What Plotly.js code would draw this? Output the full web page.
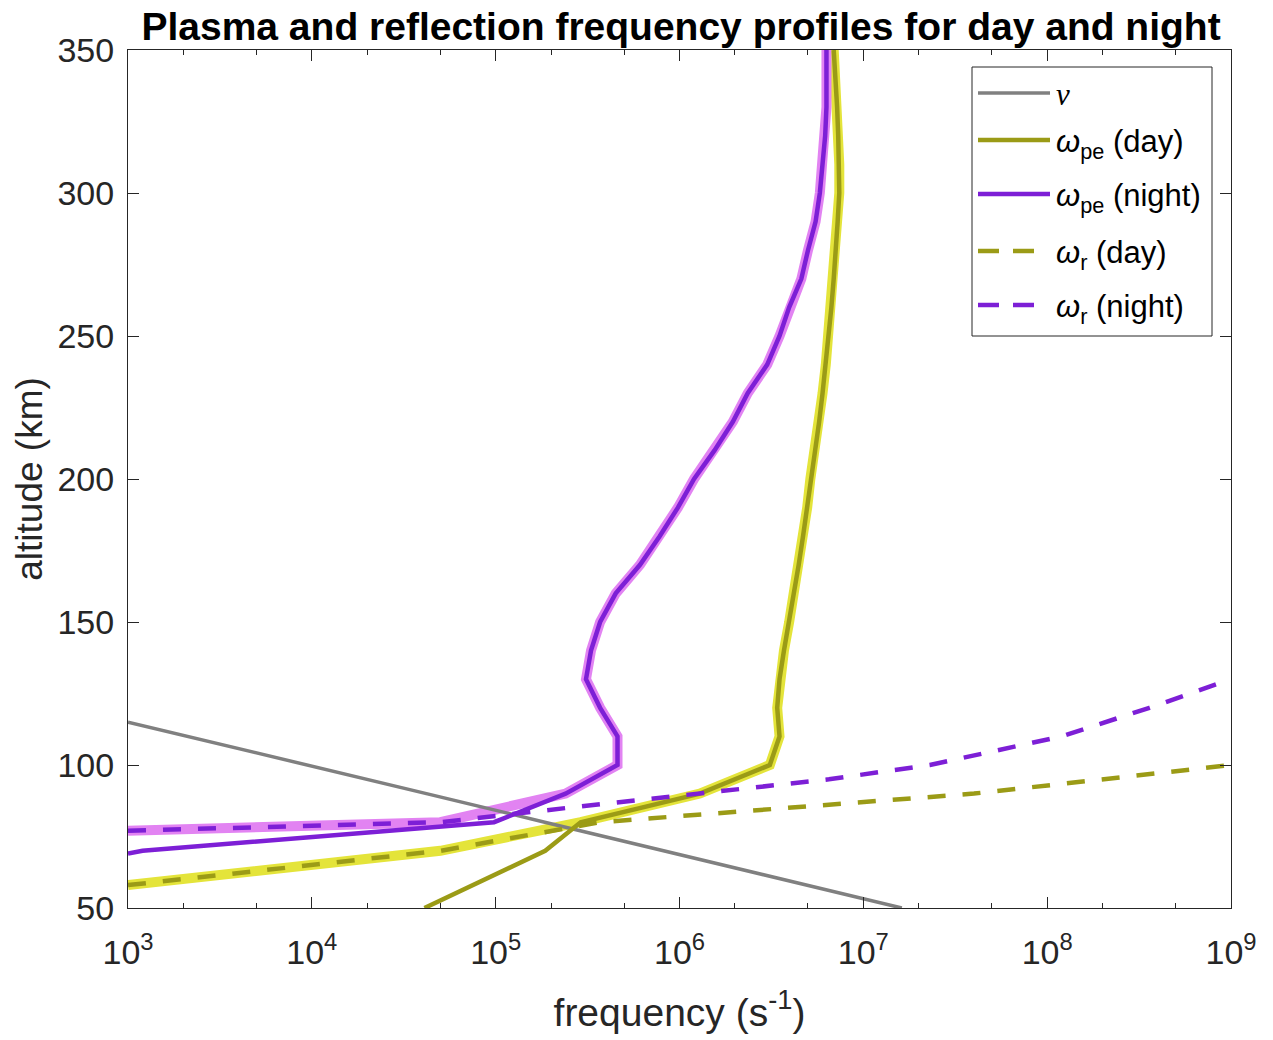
<!DOCTYPE html>
<html>
<head>
<meta charset="utf-8">
<script src="https://cdn.plot.ly/plotly-3.0.1.min.js"></script>
<style>html,body{margin:0;padding:0;background:#fff;}#chart{width:1273px;height:1040px;}</style>
</head>
<body>
<div id="chart"></div>
<script>
// collision frequency nu
const altNu = [50, 60, 70, 80, 90, 100, 110, 115];
const nuVals = [1.62e7, 3.6e6, 8.2e5, 1.85e5, 4.2e4, 9.4e3, 2.1e3, 1.0e3];

// plasma frequency, day
const altDay = [50, 60, 70, 80, 90, 100, 110, 120, 130, 140, 150, 160, 170, 180, 190, 200, 210, 220, 230, 240, 250, 260, 270, 280, 290, 300, 310, 320, 330, 340, 350];
const wpeDay = [4.1e4, 8.7e4, 1.86e5, 2.9e5, 1.29e6, 3.1e6, 3.5e6, 3.4e6, 3.5e6, 3.7e6, 3.95e6, 4.2e6, 4.45e6, 4.7e6, 4.95e6, 5.15e6, 5.45e6, 5.75e6, 6.0e6, 6.25e6, 6.45e6, 6.7e6, 6.9e6, 7.1e6, 7.25e6, 7.4e6, 7.4e6, 7.3e6, 7.2e6, 7.05e6, 6.9e6];

// plasma frequency, night
const altNight = [69, 70, 80, 90, 100, 110, 120, 130, 140, 150, 160, 170, 180, 190, 200, 210, 220, 230, 240, 250, 260, 270, 280, 290, 300, 310, 320, 330, 340, 350];
const wpeNight = [1.0e3, 1.2e3, 9.8e4, 2.4e5, 4.6e5, 4.6e5, 3.7e5, 3.1e5, 3.3e5, 3.7e5, 4.5e5, 6.1e5, 7.8e5, 9.8e5, 1.2e6, 1.55e6, 1.95e6, 2.35e6, 3.0e6, 3.5e6, 3.95e6, 4.6e6, 5.0e6, 5.5e6, 5.8e6, 6.0e6, 6.2e6, 6.3e6, 6.3e6, 6.3e6];

// reflection frequency, day
const altRDay = [58, 60, 70, 80, 90, 100];
const wrDay = [1.0e3, 1.9e3, 5.0e4, 3.7e5, 4.0e7, 1.0e9];

// reflection frequency, night
const altRNight = [77, 80, 85, 90, 95, 100, 110, 120, 130];
const wrNight = [1.0e3, 5.0e4, 2.45e5, 1.2e6, 6.5e6, 2.3e7, 1.2e8, 3.6e8, 1.0e9];

// shaded envelopes (lower of the two frequencies)
const altBandDay = [58, 60, 70, 80, 90, 100, 110, 120, 130, 140, 150, 160, 170, 180, 190, 200, 210, 220, 230, 240, 250, 260, 270, 280, 290, 300, 310, 320, 330, 340, 350];
const bandDay = [1.0e3, 1.9e3, 5.0e4, 2.9e5, 1.29e6, 3.1e6, 3.5e6, 3.4e6, 3.5e6, 3.7e6, 3.95e6, 4.2e6, 4.45e6, 4.7e6, 4.95e6, 5.15e6, 5.45e6, 5.75e6, 6.0e6, 6.25e6, 6.45e6, 6.7e6, 6.9e6, 7.1e6, 7.25e6, 7.4e6, 7.4e6, 7.3e6, 7.2e6, 7.05e6, 6.9e6];
const altBandNight = [77, 80, 90, 100, 110, 120, 130, 140, 150, 160, 170, 180, 190, 200, 210, 220, 230, 240, 250, 260, 270, 280, 290, 300, 310, 320, 330, 340, 350];
const bandNight = [1.0e3, 5.0e4, 2.4e5, 4.6e5, 4.6e5, 3.7e5, 3.1e5, 3.3e5, 3.7e5, 4.5e5, 6.1e5, 7.8e5, 9.8e5, 1.2e6, 1.55e6, 1.95e6, 2.35e6, 3.0e6, 3.5e6, 3.95e6, 4.6e6, 5.0e6, 5.5e6, 5.8e6, 6.0e6, 6.2e6, 6.3e6, 6.3e6, 6.3e6];

const xTickVals = [1e3, 1e4, 1e5, 1e6, 1e7, 1e8, 1e9];
const xTickText = ['10<sup>3</sup>', '10<sup>4</sup>', '10<sup>5</sup>', '10<sup>6</sup>', '10<sup>7</sup>', '10<sup>8</sup>', '10<sup>9</sup>'];
const yTickVals = [50, 100, 150, 200, 250, 300, 350];

const legendLabels = ['<span style="font-family:Liberation Serif"><i>ν</i></span>', '<i>ω</i><sub>pe</sub> (day)', '<i>ω</i><sub>pe</sub> (night)', '<i>ω</i><sub>r</sub> (day)', '<i>ω</i><sub>r</sub> (night)'];

const FONT = 'Liberation Sans, Arial, Helvetica, sans-serif';
const OLIVE = '#9b9b16';
const YELLOW = '#e4e43a';
const PURPLE = '#7d1fd6';
const PINK = '#e283f2';
const GRAY = '#808080';
const DASH = '18px,17px';

const traces = [
  {x: bandDay, y: altBandDay, mode: 'lines', line: {color: YELLOW, width: 10}, showlegend: false, hoverinfo: 'skip'},
  {x: bandNight, y: altBandNight, mode: 'lines', line: {color: PINK, width: 10}, showlegend: false, hoverinfo: 'skip'},
  {x: nuVals, y: altNu, mode: 'lines', name: legendLabels[0], line: {color: GRAY, width: 3.5}},
  {x: wpeDay, y: altDay, mode: 'lines', name: legendLabels[1], line: {color: OLIVE, width: 4.5}},
  {x: wpeNight, y: altNight, mode: 'lines', name: legendLabels[2], line: {color: PURPLE, width: 4.5}},
  {x: wrDay, y: altRDay, mode: 'lines', name: legendLabels[3], line: {color: OLIVE, width: 4.5, dash: DASH}},
  {x: wrNight, y: altRNight, mode: 'lines', name: legendLabels[4], line: {color: PURPLE, width: 4.5, dash: DASH}}
];

// custom legend (paper coordinates)
const L = {l: 128, t: 50, w: 1103, h: 858};
const px = v => (v - L.l) / L.w;
const py = v => (L.t + L.h - v) / L.h;
const shapes = [
  {type: 'rect', xref: 'paper', yref: 'paper', x0: px(972), x1: px(1212), y0: py(336), y1: py(67), line: {color: '#262626', width: 1}, fillcolor: '#fff', layer: 'above'}
];
const rowsY = [93, 140, 194, 251, 305];
const rowStyle = [
  {color: GRAY, width: 3.5, dashed: false},
  {color: OLIVE, width: 4.5, dashed: false},
  {color: PURPLE, width: 4.5, dashed: false},
  {color: OLIVE, width: 4.5, dashed: true},
  {color: PURPLE, width: 4.5, dashed: true}
];
const annotations = [];
rowsY.forEach((ry, i) => {
  const s = rowStyle[i];
  const segs = s.dashed ? [[978, 999], [1013, 1034]] : [[978, 1050]];
  segs.forEach(sg => shapes.push({type: 'line', xref: 'paper', yref: 'paper', x0: px(sg[0]), x1: px(sg[1]), y0: py(ry), y1: py(ry), line: {color: s.color, width: s.width}, layer: 'above'}));
  annotations.push({xref: 'paper', yref: 'paper', x: px(1054), y: py(ry + (i === 0 ? 2 : 4)), xanchor: 'left', yanchor: 'middle', showarrow: false, text: legendLabels[i], font: {size: 31, color: '#000', family: FONT}});
});

const layout = {
  width: 1273, height: 1040,
  margin: {l: 128, r: 42, t: 50, b: 132},
  paper_bgcolor: '#fff', plot_bgcolor: '#fff',
  font: {family: FONT, color: '#262626'},
  title: {text: '<b>Plasma and reflection frequency profiles for day and night</b>', font: {size: 39, color: '#000', family: FONT}, x: 0.535, xanchor: 'center', y: 0.975, yanchor: 'middle'},
  xaxis: {
    type: 'log', range: [3, 9], autorange: false,
    tickvals: xTickVals, ticktext: xTickText,
    ticks: 'inside', ticklen: 11, tickwidth: 1, tickcolor: '#262626',
    minor: {ticks: 'inside', ticklen: 5, tickcolor: '#262626', showgrid: false},
    showline: true, linecolor: '#262626', linewidth: 1, mirror: 'ticks',
    showgrid: false, zeroline: false,
    ticklabelstandoff: 14,
    tickfont: {size: 34, color: '#262626', family: FONT},
    title: {text: 'frequency (s<sup>-1</sup>)', font: {size: 39, color: '#262626', family: FONT}, standoff: 28}
  },
  yaxis: {
    range: [50, 350], autorange: false,
    tickvals: yTickVals,
    ticks: 'inside', ticklen: 11, tickwidth: 1, tickcolor: '#262626',
    showline: true, linecolor: '#262626', linewidth: 1, mirror: 'ticks',
    showgrid: false, zeroline: false,
    ticklabelstandoff: 6,
    tickfont: {size: 34, color: '#262626', family: FONT},
    title: {text: 'altitude (km)', font: {size: 37, color: '#262626', family: FONT}, standoff: 3}
  },
  showlegend: false,
  shapes: shapes,
  annotations: annotations
};

Plotly.newPlot('chart', traces, layout, {displayModeBar: false, staticPlot: true});
</script>
</body>
</html>
